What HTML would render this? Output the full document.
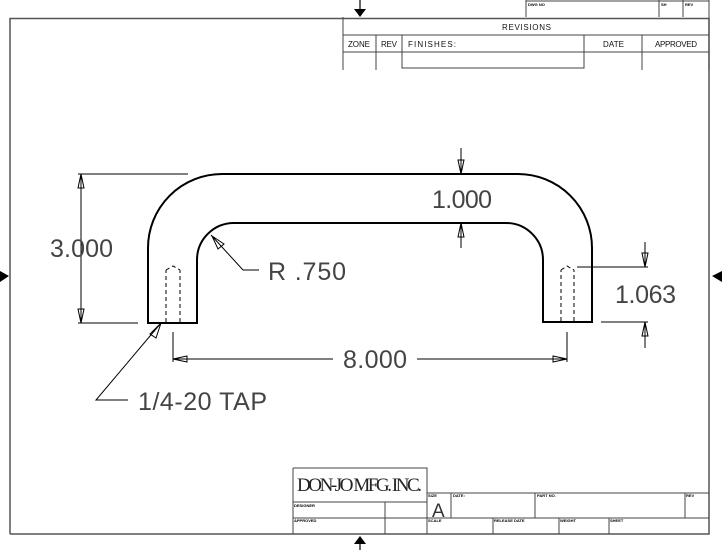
<!DOCTYPE html>
<html><head><meta charset="utf-8"><style>
html,body{margin:0;padding:0;background:#fff;}
svg{display:block;}
text{font-family:"Liberation Sans",sans-serif;fill:#333;}
</style></head><body>
<svg width="722" height="550" viewBox="0 0 722 550" xmlns="http://www.w3.org/2000/svg">
<g stroke="#555" stroke-width="1.5" fill="none">
<path d="M10 534 V18.5 H709 V534 H10"/>
</g>
<g stroke="#444" stroke-width="1" fill="none">
<path d="M526 0 V17 M659 0 V17 M683 0 V17 M709 0 V17 M526 1 H709"/>
<path d="M343 17 V70 M343 35 H709 M343 52 H709 M376 35 V70 M402 35 V68 H584 V35 M584 52 V35 M642 35 V70 M709 17 V70"/>
</g>
<g><text x="528" y="6" style="font-size:4px;font-weight:bold;fill:#000">DWG NO</text><text x="661" y="6" style="font-size:4px;font-weight:bold;fill:#000">SH</text><text x="685" y="6" style="font-size:4px;font-weight:bold;fill:#000">REV</text></g>
<g style="font-size:8px">
<text x="502" y="30" textLength="49" style="fill:#111">REVISIONS</text>
<text x="348" y="47" textLength="22" style="fill:#111">ZONE</text>
<text x="381" y="47" textLength="16" style="fill:#111">REV</text>
<text x="408" y="47" textLength="48" style="fill:#111">FINISHES:</text>
<text x="603" y="47" textLength="21" style="fill:#111">DATE</text>
<text x="655" y="47" textLength="42" style="fill:#111">APPROVED</text>
</g>
<path d="M360 0 V10" stroke="#000" stroke-width="1.2"/>
<path d="M354 9 L366 9 L360 17 Z" fill="#000"/>
<path d="M360 542 V550" stroke="#000" stroke-width="1.2"/>
<path d="M354 544 L366 544 L360 536 Z" fill="#000"/>
<path d="M0 271 L9 276 L0 282 Z" fill="#000"/>
<path d="M722 271 L712 276 L722 282 Z" fill="#000"/>
<g stroke="#444" stroke-width="1" fill="none">
<path d="M293 468 H427 V534 M293 468 V534 M293 502 H427 M385 502 V534 M427 493 H709 M293 518 H709 M451 493 V518 M535 493 V518 M685 493 V518 M493 518 V534 M559 518 V534 M609 518 V534"/>
</g>
<text x="297" y="491" style="font-family:'Liberation Serif',serif;font-size:19px;fill:#222" textLength="125">DON-JO MFG. INC.</text>
<g style="font-size:4px;font-weight:bold">
<text x="294" y="507" style="fill:#000">DESIGNER</text><text x="294" y="522" style="fill:#000">APPROVED</text>
<text x="428" y="497" style="fill:#000">SIZE</text><text x="453" y="497" style="fill:#000">DATE:</text><text x="537" y="497" style="fill:#000">PART NO.</text><text x="686" y="497" style="fill:#000">REV</text>
<text x="428" y="522" style="fill:#000">SCALE</text><text x="494" y="522" style="fill:#000">RELEASE DATE</text><text x="560" y="522" style="fill:#000">WEIGHT</text><text x="610" y="522" style="fill:#000">SHEET</text>
</g>
<text x="432" y="517" style="font-size:19px;fill:#333">A</text>
<g stroke="#000" stroke-width="2" fill="none">
<path d="M148 323 V248 A74 74 0 0 1 222 174 H518 A74 74 0 0 1 592 248 V322 H543 V260 A37 37 0 0 0 506 223 H234 A37 37 0 0 0 197 260 V323 Z"/>
</g>
<g stroke="#000" stroke-width="1" stroke-dasharray="4,3" fill="none">
<path d="M166 322 V270 M180 322 V270 M166 270 L173 266 L180 270"/>
<path d="M561 321 V270 M574 321 V270 M561 270 L567 266 L574 270"/>
</g>
<g stroke="#000" stroke-width="1" fill="none">
<path d="M78 174 H188 M78 323 H138 M81 174 V323"/>
<path d="M78 188 L81 174 L84 188 Z M78 309 L81 323 L84 309 Z"/>
<path d="M461 148 V174 M458 160 L461 174 L464 160 Z M461 223 V248 M458 237 L461 223 L464 237 Z"/>
<path d="M577 267 H648 M601 322 H648 M645 242 V267 M642 253 L645 267 L648 253 Z M645 322 V348 M642 336 L645 322 L648 336 Z"/>
<path d="M173 332 V362 M567 332 V362 M173 359 H333 M417 359 H567 M187 356 L173 359 L187 362 Z M553 356 L567 359 L553 362 Z"/>
<path d="M211 235 L243 270 H259 M212 236 L218 249 L224 244 Z"/>
<path d="M161 323 L96 400 H128 M161 323 L150 334 L156 338 Z"/>
</g>
<g style="font-size:25px">
<text x="50" y="257" textLength="63" style="fill:#444">3.000</text>
<text x="268" y="280" textLength="78" style="fill:#444">R .750</text>
<text x="432" y="208" textLength="60" style="fill:#444">1.000</text>
<text x="615" y="303" textLength="61" style="fill:#444">1.063</text>
<text x="343" y="368" textLength="64" style="fill:#444">8.000</text>
<text x="138" y="410" textLength="129" style="fill:#444">1/4-20 TAP</text>
</g>
</svg>
</body></html>
